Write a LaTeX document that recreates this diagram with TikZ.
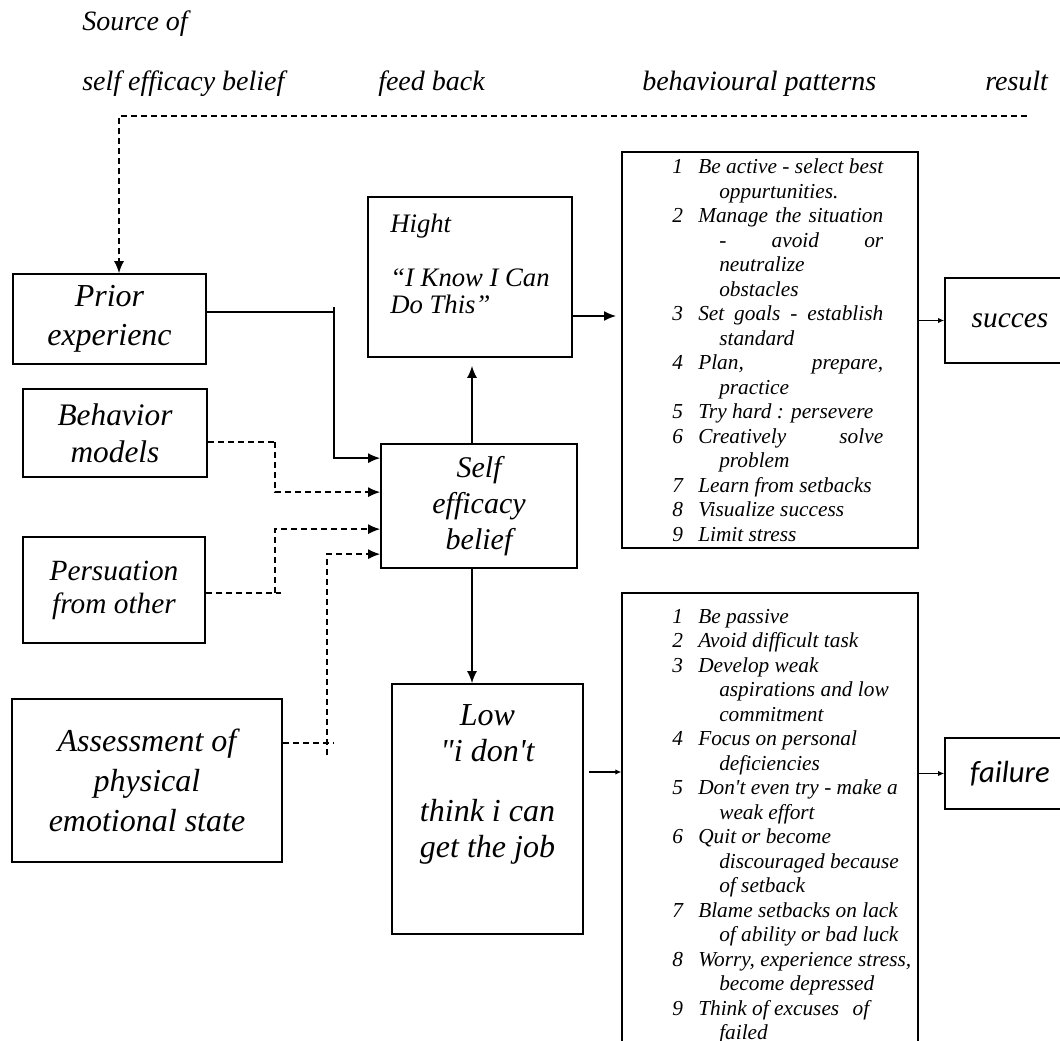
\documentclass[tikz,border=0pt]{standalone}
\usepackage{fontspec}
\setmainfont{Liberation Serif}[Ligatures=TeXOff]
\newfontfamily\calibri{Carlito}
\usetikzlibrary{arrows.meta}
\usetikzlibrary{calc}

\tikzset{
  box/.style={draw, line width=1.3pt, align=center, inner sep=2pt},
  listbox/.style={draw, line width=1pt, inner sep=0pt},
  listtext/.style={anchor=north west, inner sep=0pt, align=left, font=\itshape\fontsize{16}{18.375}\selectfont},
  title/.style={anchor=base west, inner sep=0pt, font=\itshape\fontsize{21}{24}\selectfont},
  conn/.style={line width=1.1pt},
  dconn/.style={line width=1pt, dash pattern=on 4.5pt off 3pt},
  arr/.style={-{Latex[length=9pt,width=7.5pt]}},
  thinarr/.style={line width=0.8pt, -{Latex[length=4.5pt,width=4pt]}}
}

\newcommand{\litem}[2]{\makebox[19.5pt][l]{#1}#2}
\newcommand{\lcont}[1]{\hspace*{35.25pt}#1}
\newcommand{\lfill}[2]{\makebox[#1][s]{#2}}

\begin{document}
\begin{tikzpicture}[x=0.75pt, y=-0.75pt]
    \clip (0,0) rectangle (1060,1041);

    % column titles
    \node[title] (tsrc) at (82,31) {Source of};
    \node[title] (tsef) at (82,91) {self efficacy belief};
    \node[title] (tfb) at (378,91) {feed back};
    \node[title] (tbp) at (642,91) {behavioural patterns};
    \node[title] (tres) at (985,91) {result};

    % sources
    \node[box, minimum width=144.75pt, minimum height=67.5pt, font=\itshape\fontsize{24}{29.25}\selectfont] (prior) at (109.5,319) {Prior\\experienc};
    \node[box, minimum width=138pt, minimum height=66pt, font=\itshape\fontsize{23.5}{27.75}\selectfont] (behav) at (115,433) {Behavior\\models};
    \node[box, minimum width=136.5pt, minimum height=79.5pt, font=\itshape\fontsize{22}{24.75}\selectfont] (persu) at (114,590) {Persuation\\from other};
    \node[box, minimum width=202.5pt, minimum height=122.25pt, font=\itshape\fontsize{24}{30}\selectfont] (assess) at (147,780.5) {Assessment of\\physical\\emotional state};

    % belief
    \node[box, minimum width=147pt, minimum height=93pt, font=\itshape\fontsize{22.5}{27}\selectfont] (self) at (479,506) {Self\\efficacy\\belief};
    \node[box, align=left, minimum width=153pt, minimum height=120pt, font=\itshape\fontsize{20}{20}\selectfont] (high) at (470,277) {Hight\\[21pt]“I Know I Can\\Do This”\\\mbox{}};
    \node[box, minimum width=143.25pt, minimum height=187.5pt, font=\itshape\fontsize{24}{27}\selectfont] (low) at (487.5,809) {Low\\"i don't\\[18pt]think i can\\get the job\\[14.75pt]\mbox{}};

    % behavioural patterns
    \node[listbox, minimum width=222pt, minimum height=297pt] (pos) at (770,350) {};
    \node[listbox, minimum width=222pt, minimum height=365.25pt] (neg) at (770,836.5) {};
    \node[listtext] (posl) at (672,158.5) {%
        \litem{1}{\lfill{138.75pt}{Be active - select best}}\\
        \lcont{oppurtunities.}\\
        \litem{2}{\lfill{138.75pt}{Manage the situation}}\\
        \lcont{\lfill{123pt}{- avoid or}}\\
        \lcont{neutralize}\\
        \lcont{obstacles}\\
        \litem{3}{\lfill{138.75pt}{Set goals - establish}}\\
        \lcont{standard}\\
        \litem{4}{\lfill{138.75pt}{Plan, prepare,}}\\
        \lcont{practice}\\
        \litem{5}{Try hard : persevere}\\
        \litem{6}{\lfill{138.75pt}{Creatively solve}}\\
        \lcont{problem}\\
        \litem{7}{Learn from setbacks}\\
        \litem{8}{Visualize success}\\
        \litem{9}{Limit stress}};
    \node[listtext] (negl) at (672,609) {%
        \litem{1}{Be passive}\\
        \litem{2}{Avoid difficult task}\\
        \litem{3}{Develop weak}\\
        \lcont{aspirations and low}\\
        \lcont{commitment}\\
        \litem{4}{Focus on personal}\\
        \lcont{deficiencies}\\
        \litem{5}{Don't even try - make a}\\
        \lcont{weak effort}\\
        \litem{6}{Quit or become}\\
        \lcont{discouraged because}\\
        \lcont{of setback}\\
        \litem{7}{Blame setbacks on lack}\\
        \lcont{of ability or bad luck}\\
        \litem{8}{Worry, experience stress,}\\
        \lcont{become depressed}\\
        \litem{9}{Think of excuses\hspace{10pt}of}\\
        \lcont{failed}};

    % results
    \node[box, minimum width=97.5pt, minimum height=63.75pt, font=\itshape\fontsize{22}{26}\selectfont] (succ) at (1010,320.5) {succes};
    \node[box, minimum width=97.5pt, minimum height=53.25pt, font=\calibri\itshape\fontsize{23}{27}\selectfont] (fail) at (1010,773.5) {failure};

    % feed back line
    \coordinate (fb) at (1027,116);
    \draw[dconn, arr] (fb) -| ($(prior.north)+(9.5,0)$);

    % sources into belief
    \coordinate (jp) at (334,312);
    \draw[conn] (prior.east |- jp) -- (jp);
    \draw[conn] ($(jp)+(0,-5)$) -- ($(jp)+(0,6)$);
    \draw[conn, arr] (jp) |- ($(self.north west)+(0,15)$);

    \coordinate (jb) at (275,442);
    \draw[dconn] ($(behav.east)+(0,9)$) -- (jb);
    \draw[dconn, arr] (jb) |- ($(self.north west)+(0,49)$);

    \coordinate (jq) at (275,593);
    \draw[dconn] (persu.east |- jq) -- ($(jq)+(6,0)$);
    \draw[dconn, arr] (jq) |- ($(self.north west)+(0,86)$);

    \coordinate (ja) at (327,743);
    \draw[dconn] (assess.east |- ja) -- ($(ja)+(6,0)$);
    \draw[dconn, arr] ($(ja)+(0,12)$) |- ($(self.north west)+(0,111)$);

    % belief to patterns to results
    \draw[conn, arr, shorten >=6pt] ($(self.north)+(-7,0)$) coordinate (su) -- (su |- high.south);
    \draw[conn, arr] ($(self.south)+(-7,0)$) coordinate (sd) -- (sd |- low.north);
    \draw[conn, arr, shorten >=4pt] ($(high.east)+(0,39)$) coordinate (hp) -- (hp -| pos.west);
    \draw[thinarr] ($(low.east)+(5,-37)$) coordinate (ln) -- (ln -| neg.west);
    \draw[thinarr] (succ.west -| pos.east) -- (succ.west);
    \draw[thinarr] (fail.west -| neg.east) -- (fail.west);
\end{tikzpicture}
\end{document}
